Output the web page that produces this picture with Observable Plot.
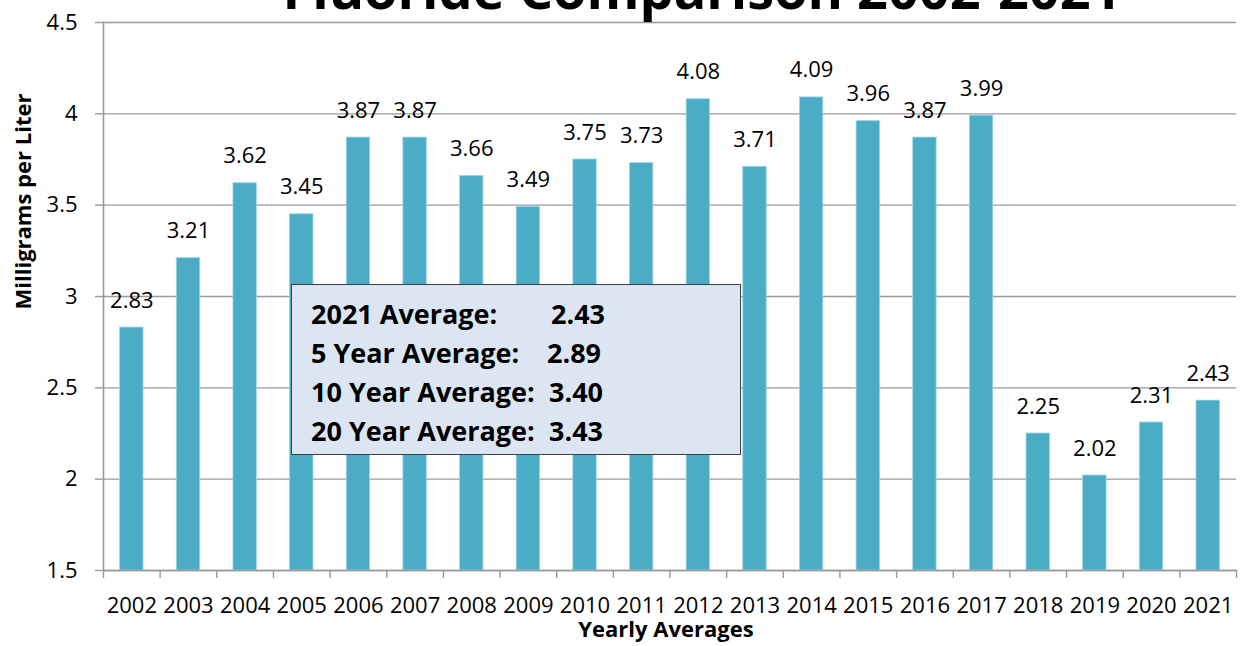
<!DOCTYPE html>
<html>
<head>
<meta charset="utf-8">
<script src="https://cdn.jsdelivr.net/npm/d3@7"></script>
<script src="https://cdn.jsdelivr.net/npm/@observablehq/plot@0.6"></script>
<style>
  html, body { margin: 0; padding: 0; background: #fff; }
  #wrap { position: relative; width: 1245px; height: 646px; overflow: hidden; font-family: "Open Sans", Lato, sans-serif; }
  #box { position: absolute; left: 291px; top: 284px; width: 448px; height: 169px; background: #DCE6F2; border: 1px solid #404040; }
  #box .line { position: absolute; left: 19px; font-weight: bold; font-size: 27px; line-height: 1; color: #000; white-space: nowrap; }
  #box .val { position: absolute; }
</style>
</head>
<body>
<div id="wrap"></div>
<script>
const years = ["2002","2003","2004","2005","2006","2007","2008","2009","2010","2011","2012","2013","2014","2015","2016","2017","2018","2019","2020","2021"];
const values = [2.83,3.21,3.62,3.45,3.87,3.87,3.66,3.49,3.75,3.73,4.08,3.71,4.09,3.96,3.87,3.99,2.25,2.02,2.31,2.43];
const yTicks = [1.5,2,2.5,3,3.5,4,4.5];
const yTickLabels = ["1.5","2","2.5","3","3.5","4","4.5"];
const summaryLabels = ["2021 Average:","5 Year Average:","10 Year Average:","20 Year Average:"];
const summaryValues = ["2.43","2.89","3.40","3.43"];
const title = "Fluoride Comparison 2002-2021";
const yTitle = "Milligrams per Liter";
const xTitle = "Yearly Averages";

const data = years.map((year, i) => ({year, value: values[i]}));

const W = 1245, H = 646, mL = 103, mR = 9, mT = 22, mB = 76;
const step = (W - mL - mR) / years.length;
const barW = 23.4;
const inset = (step - barW) / 2;
const gridColor = "#9a9a9a";
const font = "'Open Sans', Lato, sans-serif";

const chart = Plot.plot({
  width: W, height: H,
  marginTop: mT, marginBottom: mB, marginLeft: mL, marginRight: mR,
  style: {fontFamily: font, fontSize: "22px", color: "#000", background: "transparent", overflow: "hidden"},
  x: {domain: years, padding: 0, round: false, label: null},
  y: {domain: [1.5, 4.5], label: null},
  marks: [
    Plot.gridY(yTicks, {stroke: gridColor, strokeOpacity: 1, strokeWidth: 1.4}),
    Plot.barY(data, {x: "year", y1: 1.5, y2: "value", insetLeft: inset, insetRight: inset, fill: "#4BACC6", stroke: "#9fd4e2", strokeWidth: 0.8}),
    Plot.frame({anchor: "left", stroke: gridColor, strokeWidth: 1.6}),
    Plot.frame({anchor: "bottom", stroke: gridColor, strokeWidth: 1.6}),
    Plot.axisY({ticks: yTicks, tickSize: 8, tickPadding: 18, stroke: gridColor, strokeWidth: 1.4, fontSize: 22,
      tickFormat: d => yTickLabels[yTicks.indexOf(d)], label: null}),
    Plot.axisX({ticks: years, tickSize: 8, dx: -step / 2, stroke: gridColor, strokeWidth: 1.4, tickFormat: () => "", label: null}),
    Plot.axisX({ticks: [years[years.length - 1]], tickSize: 8, dx: step / 2, stroke: gridColor, strokeWidth: 1.4, tickFormat: () => "", label: null}),
    Plot.axisX({ticks: years, tickSize: 0, tickPadding: 27, fontSize: 22, label: null}),
    Plot.text(data, {x: "year", y: "value", text: d => d.value.toFixed(2), dy: -27, fontSize: 22, fill: "#000"}),
    Plot.text([title], {frameAnchor: "top", dx: 32, dy: -14, lineAnchor: "bottom", textAnchor: "middle", fontWeight: "bold", fontSize: 54, fill: "#000"}),
    Plot.text([yTitle], {frameAnchor: "left", rotate: -90, dx: -80, dy: -95, textAnchor: "middle", fontWeight: "bold", fontSize: 22, fill: "#000"}),
    Plot.text([xTitle], {frameAnchor: "bottom", dx: -4, dy: 51, lineAnchor: "top", textAnchor: "middle", fontWeight: "bold", fontSize: 22, fill: "#000"})
  ]
});

const wrap = document.getElementById("wrap");
wrap.appendChild(chart);

const box = document.createElement("div");
box.id = "box";
const tops = [15, 54, 93, 132];
const valLeft = [240, 236, 238, 238];
summaryLabels.forEach((lab, i) => {
  const line = document.createElement("div");
  line.className = "line";
  line.style.top = tops[i] + "px";
  line.textContent = lab;
  const v = document.createElement("span");
  v.className = "val";
  v.style.left = valLeft[i] + "px";
  v.textContent = summaryValues[i];
  line.appendChild(v);
  box.appendChild(line);
});
wrap.appendChild(box);
</script>
</body>
</html>
